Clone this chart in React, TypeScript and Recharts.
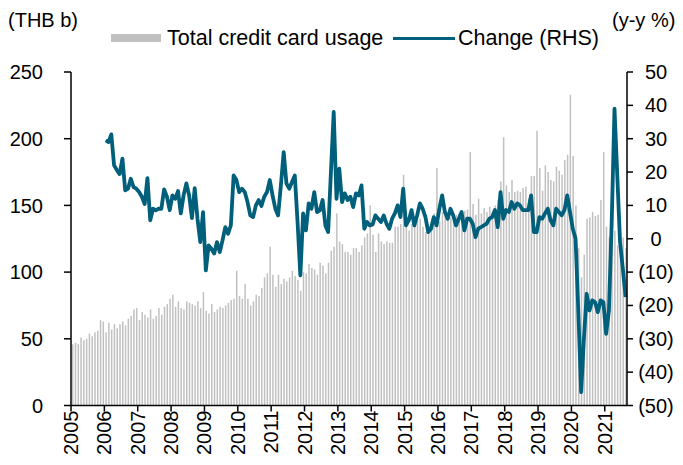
import { Bar, ComposedChart, Line, XAxis, YAxis } from "recharts";

// Monthly total credit card usage (THB b), Jan 2005 – Aug 2021
const usage2005 = [46, 47, 46, 51, 49, 50, 54, 52, 55, 56, 64, 63];
const usage2006 = [55, 62, 57, 61, 58, 61, 63, 60, 65, 67, 72, 73];
const usage2007 = [64, 70, 68, 66, 72, 65, 67, 73, 68, 74, 76, 80];
const usage2008 = [83, 74, 78, 73, 72, 78, 77, 76, 75, 78, 73, 85];
const usage2009 = [71, 69, 76, 70, 72, 74, 73, 75, 77, 79, 80, 101];
const usage2010 = [82, 80, 91, 80, 75, 78, 83, 82, 88, 96, 99, 119];
const usage2011 = [98, 89, 98, 91, 95, 93, 96, 101, 97, 94, 86, 100];
const usage2012 = [99, 106, 103, 102, 98, 107, 105, 99, 107, 116, 119, 144];
const usage2013 = [123, 121, 115, 115, 113, 118, 118, 115, 120, 126, 129, 150];
const usage2014 = [128, 115, 129, 123, 121, 123, 122, 122, 134, 134, 136, 173];
const usage2015 = [139, 131, 136, 134, 139, 140, 134, 130, 131, 136, 144, 178];
const usage2016 = [138, 145, 146, 144, 141, 140, 143, 144, 140, 146, 147, 190];
const usage2017 = [151, 143, 155, 144, 148, 145, 149, 145, 150, 154, 168, 201];
const usage2018 = [165, 160, 169, 160, 161, 160, 163, 164, 155, 172, 172, 206];
const usage2019 = [178, 161, 180, 175, 169, 168, 179, 176, 173, 184, 188, 233];
const usage2020 = [187, 150, 118, 96, 113, 140, 141, 145, 142, 143, 154, 190];
const usage2021 = [134, 126, 140, 131, 120, 122, 126, 118];

// y-y change (%), Jan 2006 – Aug 2021
const change2006 = [29.5, 29, 31.3, 22, 20.6, 19.4, 24, 14.5, 15, 18, 15.5, 15];
const change2007 = [14, 12.6, 10.4, 18.2, 5.5, 9, 8.5, 9, 9, 14.8, 12.6, 8.6];
const change2008 = [13, 12, 14.3, 7.6, 13, 16.6, 13, 6.2, 15.2, 6, -1, 8];
const change2009 = [-9.5, -2, -3, -4.4, -1, -4, -0.5, 3.5, 1.5, 4, 19, 17.6];
const change2010 = [14, 15, 14, 11, 7, 6.5, 10, 11.6, 9.8, 12.6, 14, 17.6];
const change2011 = [13, 9, 7, 16, 26, 16.6, 15, 17, 19, 5, -11, 7.6];
const change2012 = [2.5, 10.6, 9, 14, 8, 8.5, 11.6, 4, 2, 20, 38, 12];
const change2013 = [21, 11, 13.6, 11.6, 12.6, 9.5, 13.6, 13, 16, 3, 5, 4];
const change2014 = [4.3, 7, 6, 5, 7, 4.5, 3, 6, 7.6, 10, 6.5, 15];
const change2015 = [4, 5.5, 8.6, 4, 7, 10.6, 9, 6.5, 2, 3, 6.5, 4];
const change2016 = [9, 13, 8, 6, 9, 7, 4, 6, 8, 2.5, 6, 6];
const change2017 = [4.5, 0.5, 3, 3.5, 4, 4.5, 6, 6.5, 8.6, 3.5, 14, 6];
const change2018 = [8.6, 8, 11, 9, 10.6, 10, 8.6, 8.6, 8.6, 13, 2, 2];
const change2019 = [6.5, 6, 7.6, 9, 5.5, 4, 9, 8, 7, 8.6, 13, 8];
const change2020 = [3, 0, -22, -46, -30, -16.5, -21.5, -18.5, -19, -22, -18.5, -19];
const change2021 = [-28.5, -21.5, 5, 39, 19, -1, -9, -17.5];

const FIRST_YEAR = 2005;
const yearTicks = [0, 12, 24, 36, 48, 60, 72, 84, 96, 108, 120, 132, 144, 156, 168, 180, 192];
const leftTicks = [0, 50, 100, 150, 200, 250];
const rightTicks = [-50, -40, -30, -20, -10, 0, 10, 20, 30, 40, 50];

const usage = [
  ...usage2005, ...usage2006, ...usage2007, ...usage2008, ...usage2009,
  ...usage2010, ...usage2011, ...usage2012, ...usage2013, ...usage2014,
  ...usage2015, ...usage2016, ...usage2017, ...usage2018, ...usage2019,
  ...usage2020, ...usage2021,
];
const change = [
  ...change2006, ...change2007, ...change2008, ...change2009, ...change2010,
  ...change2011, ...change2012, ...change2013, ...change2014, ...change2015,
  ...change2016, ...change2017, ...change2018, ...change2019, ...change2020,
  ...change2021,
];
const CHANGE_OFFSET = 12; // line starts Jan 2006

const data = usage.map((u, i) => ({
  x: i + 0.5,
  usage: u,
  change: i >= CHANGE_OFFSET ? change[i - CHANGE_OFFSET] : null,
}));

const FONT = "'Liberation Sans', Arial, sans-serif";
const BAR_GRAY = "#c0c0c0";
const TEAL = "#005f7a";

function YearTick({ x, y, payload }: any) {
  return (
    <text
      x={x}
      y={y}
      transform={`rotate(-90, ${x}, ${y})`}
      textAnchor="end"
      dominantBaseline="central"
      fontSize={20}
      fontFamily={FONT}
      fill="#000"
    >
      {FIRST_YEAR + payload.value / 12}
    </text>
  );
}

function RightTick({ x, y, payload }: any) {
  const v = payload.value as number;
  const label = v < 0 ? `(${Math.abs(v)})` : String(v);
  return (
    <text
      x={x + 18}
      y={y}
      textAnchor="middle"
      dominantBaseline="central"
      fontSize={20}
      fontFamily={FONT}
      fill="#000"
    >
      {label}
    </text>
  );
}

const textStyle = {
  position: "absolute" as const,
  fontFamily: FONT,
  fontSize: 20,
  lineHeight: "22px",
  color: "#000",
  whiteSpace: "nowrap" as const,
};

const legendText = { ...textStyle, fontSize: 21.5, lineHeight: "24px" };

export default function App() {
  return (
    <div
      style={{
        position: "absolute",
        left: 0,
        top: 0,
        width: 683,
        height: 465,
        background: "#fff",
      }}
    >
      <ComposedChart
        width={683}
        height={465}
        data={data}
        margin={{ top: 72, right: 0, bottom: 2.5, left: 0 }}
      >
        <XAxis
          type="number"
          dataKey="x"
          domain={[0, 200]}
          ticks={yearTicks}
          interval={0}
          height={57}
          tickSize={6}
          tickMargin={-1}
          tickLine={{ stroke: "#000", strokeWidth: 1.5 }}
          axisLine={{ stroke: "#000", strokeWidth: 1.5 }}
          tick={<YearTick />}
        />
        <YAxis
          yAxisId="left"
          domain={[0, 250]}
          ticks={leftTicks}
          interval={0}
          width={71}
          tickSize={7}
          tickMargin={21}
          tickLine={{ stroke: "#000", strokeWidth: 1.5 }}
          axisLine={{ stroke: "#000", strokeWidth: 1.5 }}
          tick={{ fill: "#000", fontSize: 20, fontFamily: FONT }}
        />
        <YAxis
          yAxisId="right"
          orientation="right"
          domain={[-50, 50]}
          ticks={rightTicks}
          interval={0}
          width={56}
          tickSize={6}
          tickMargin={5}
          tickLine={{ stroke: "#000", strokeWidth: 1.5 }}
          axisLine={{ stroke: "#000", strokeWidth: 1.5 }}
          tick={<RightTick />}
        />
        <Bar
          yAxisId="left"
          dataKey="usage"
          fill={BAR_GRAY}
          barSize={1.5}
          isAnimationActive={false}
        />
        <Line
          yAxisId="right"
          type="linear"
          dataKey="change"
          stroke={TEAL}
          strokeWidth={3.8}
          strokeLinejoin="round"
          dot={false}
          activeDot={false}
          isAnimationActive={false}
        />
      </ComposedChart>

      {/* axis units + legend, laid over the chart */}
      <div style={{ ...textStyle, left: 8, top: 9 }}>(THB b)</div>
      <div style={{ ...textStyle, left: 612, top: 9 }}>(y-y %)</div>
      <div
        style={{
          position: "absolute",
          left: 111,
          top: 34,
          width: 50,
          height: 8,
          background: BAR_GRAY,
        }}
      />
      <div style={{ ...legendText, left: 167, top: 26 }}>Total credit card usage</div>
      <div
        style={{
          position: "absolute",
          left: 393,
          top: 36.5,
          width: 62,
          height: 3.5,
          background: TEAL,
        }}
      />
      <div style={{ ...legendText, left: 458, top: 26 }}>Change (RHS)</div>
    </div>
  );
}
